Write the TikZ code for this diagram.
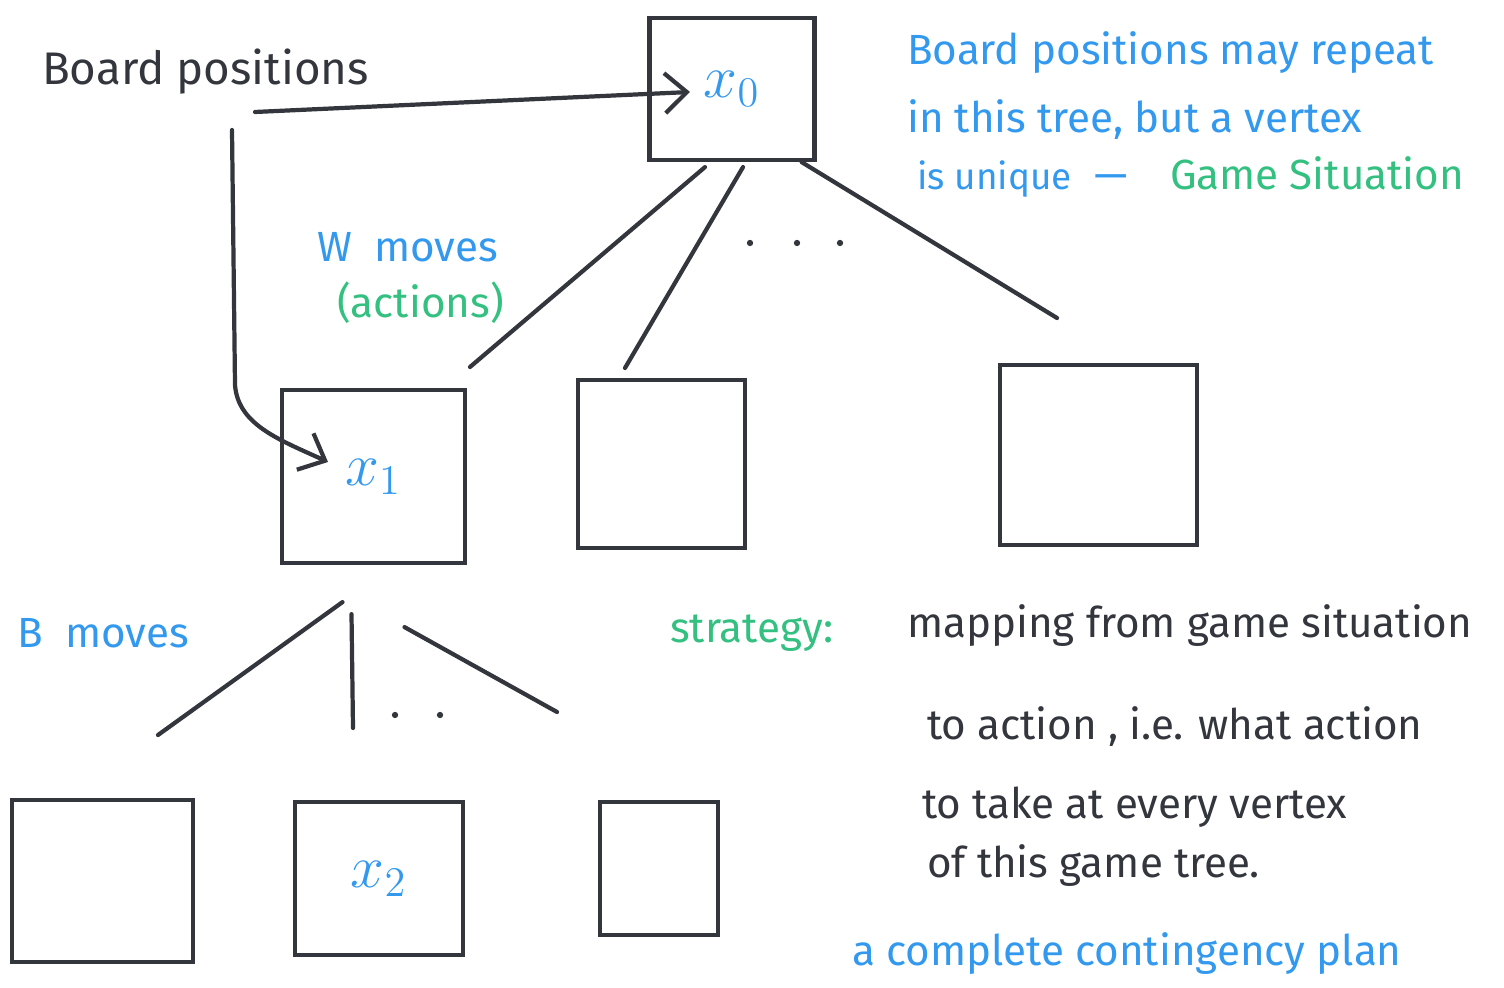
\documentclass[tikz,border=0pt]{standalone}
\usepackage{fontspec}
\setmainfont{Fira Sans}
\usepackage{amsmath}
\usetikzlibrary{arrows.meta}
\usetikzlibrary{positioning}
\definecolor{ink}{RGB}{51,54,60}
\definecolor{penblue}{RGB}{51,153,238}
\definecolor{pengreen}{RGB}{51,192,128}

\begin{document}
\begin{tikzpicture}[
            > = {Straight Barb[length=2.2mm, width=4mm]}, % open hand drawn head
            line width = 1.2pt, % pen stroke
            line cap = round,
            x = 1cm, y = -1cm % page coordinates, y grows downwards
        ]

        \tikzstyle{board}=[
            draw = ink,
            line width = 1.2pt,
            text = penblue,
            inner sep = 0pt,
            font = \fontsize{18}{20}\selectfont
        ]
        \tikzstyle{hand}=[
            anchor = base west,
            inner sep = 0pt,
            font = \fontsize{12}{14}\selectfont
        ]

        \useasboundingbox (0,0) rectangle (15.04,9.88);

        % root level
        \node[board, minimum width=1.65cm, minimum height=1.42cm] (X0) at (7.32,0.89) {$x_0$};

        % W moves level
        \node[board, minimum width=1.83cm, minimum height=1.73cm] (X1) at (3.735,4.765) {$x_1$};
        \node[board, minimum width=1.67cm, minimum height=1.68cm] (W2) at (6.615,4.64) {};
        \node[board, minimum width=1.97cm, minimum height=1.80cm] (W3) at (10.985,4.55) {};

        % B moves level
        \node[board, minimum width=1.81cm, minimum height=1.62cm] (B1) at (1.025,8.81) {};
        \node[board, minimum width=1.68cm, minimum height=1.53cm] (X2) at (3.79,8.785) {$x_2$};
        \node[board, minimum width=1.18cm, minimum height=1.33cm] (B3) at (6.59,8.685) {};

        % branch ends
        \coordinate (e1) at (4.70,3.67);
        \coordinate (e2) at (6.25,3.68);
        \coordinate (e3) at (10.57,3.18);
        \coordinate (f1) at (1.58,7.35);
        \coordinate (f2) at (3.53,7.28);
        \coordinate (f3) at (5.57,7.12);

        \draw[ink] ([xshift=-0.27cm, yshift=-0.05cm]X0.south) -- (e1);
        \draw[ink] ([xshift=0.11cm, yshift=-0.05cm]X0.south) -- (e2);
        \draw[ink] ([xshift=-0.15cm]X0.south east) -- (e3);
        \draw[ink] ([xshift=-0.31cm, yshift=-0.37cm]X1.south) -- (f1);
        \draw[ink] ([xshift=-0.22cm, yshift=-0.49cm]X1.south) -- (f2);
        \draw[ink] ([xshift=0.31cm, yshift=-0.62cm]X1.south) -- (f3);

        % more moves
        \foreach \x in {7.50,7.97,8.40}
            \fill[ink] (\x,2.43) circle (0.9pt);
        \foreach \x in {3.95,4.40}
            \fill[ink] (\x,7.15) circle (0.9pt);

        % labels
        \node[hand, text=ink, font=\fontsize{13}{15}\selectfont] (BP) at (0.40,0.85) {Board positions};
        \node[hand, text=penblue] (WM) at (3.15,2.62) {W\ \ moves};
        \node[hand, text=pengreen] (ACT) at (3.35,3.18) {(actions)};
        \node[hand, text=penblue] (BM) at (0.15,6.48) {B\ \ moves};

        % board positions point to vertices
        \coordinate (a0) at (6.90,0.92);
        \coordinate (a1) at (3.28,4.62);
        \draw[ink, ->] (2.55,1.12) -- (a0);
        \draw[ink, ->] (2.32,1.30) -- (2.35,3.85)
            .. controls (2.38,4.25) and (2.80,4.40) .. (a1);

        % note on game situations
        \node[hand, text=penblue] (N1) at (9.05,0.65) {Board positions may repeat};
        \node[hand, text=penblue] (N2) at (9.05,1.33) {in this tree, but a vertex};
        \node[hand, text=penblue, font=\fontsize{10.5}{12}\selectfont] (N3) at (9.15,1.90) {is unique};
        \node[hand, text=penblue] (N4) at (10.92,1.90) {---};
        \node[hand, text=pengreen] (GS) at (11.68,1.90) {Game Situation};

        % strategy
        \node[hand, text=pengreen] (ST) at (6.68,6.43) {strategy:};
        \node[hand, text=ink] (S1) at (9.05,6.38) {mapping from game situation};
        \node[hand, text=ink] (S2) at (9.25,7.40) {to action , i.e. what action};
        \node[hand, text=ink] (S3) at (9.20,8.18) {to take at every vertex};
        \node[hand, text=ink] (S4) at (9.25,8.77) {of this game tree.};
        \node[hand, text=penblue] (PL) at (8.50,9.65) {a complete contingency plan};

\end{tikzpicture}
\end{document}
